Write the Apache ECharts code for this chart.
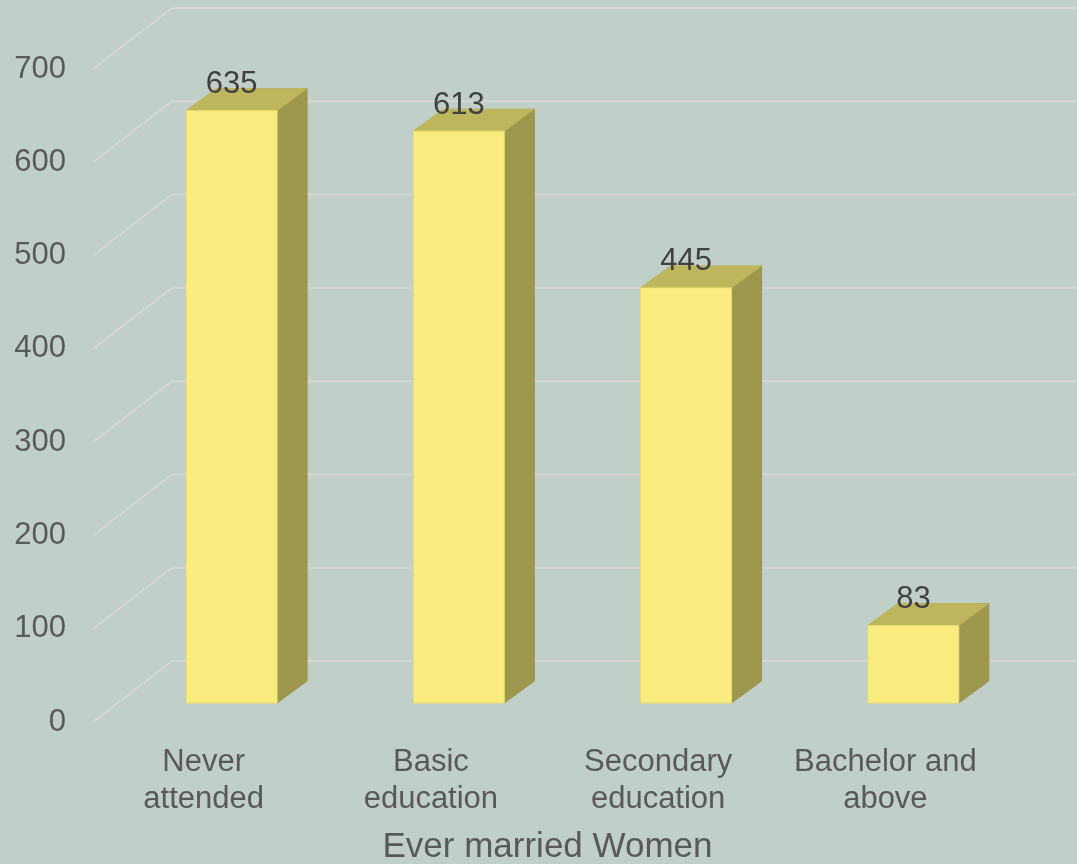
<!DOCTYPE html>
<html>
<head>
<meta charset="utf-8">
<script src="https://cdn.jsdelivr.net/npm/echarts@6/dist/echarts.min.js"></script>
<style>
  html, body { margin: 0; padding: 0; background: #C1CFC9; }
  #chart { width: 1077px; height: 864px; }
</style>
</head>
<body>
<div id="chart"></div>
<script>
// Education level of ever married women
const categories = ['Never\nattended', 'Basic\neducation', 'Secondary\neducation', 'Bachelor and\nabove'];
const women = [635, 613, 445, 83];
const yTicks = [0, 100, 200, 300, 400, 500, 600, 700];

// Pseudo-3D projection: depth vector from the front floor edge to the back wall,
// bar plane position within that depth, and the bar's own depth.
const WALL = [79, -61];
const BAR_PLANE = [25, -19];
const BAR_DEPTH = [30, -22];
const FONT = '"Liberation Sans", Arial, sans-serif';

const chart = echarts.init(document.getElementById('chart'));

chart.setOption({
  backgroundColor: '#C1CFC9',
  animation: false,
  grid: { left: 93, right: 75, top: 69, bottom: 142, outerBoundsMode: 'none', containLabel: false },
  xAxis: {
    type: 'category',
    data: categories,
    axisLine: { show: false },
    axisTick: { show: false },
    axisLabel: {
      interval: 0,
      margin: 22,
      color: '#595959',
      fontSize: 31,
      lineHeight: 37,
      fontFamily: FONT,
      padding: [0, 6, 0, 0]
    },
    name: 'Ever married Women',
    nameLocation: 'middle',
    nameGap: 108,
    nameTextStyle: { color: '#595959', fontSize: 35, fontFamily: FONT }
  },
  yAxis: {
    type: 'value',
    min: 0,
    max: 700,
    interval: 100,
    axisLine: { show: false },
    axisTick: { show: false },
    splitLine: { show: false },
    axisLabel: { margin: 27, color: '#595959', fontSize: 31, fontFamily: FONT, padding: [5, 0, 0, 0] }
  },
  series: [
    {
      // back-wall gridlines with their diagonal side-wall segments
      type: 'custom',
      z: 1,
      silent: true,
      data: yTicks.map(v => [0, v]),
      encode: { x: 0, y: 1 },
      renderItem: function (params, api) {
        const cs = params.coordSys;
        const y = api.coord([0, api.value(1)])[1];
        const x0 = cs.x;
        const bx = x0 + WALL[0];
        const by = y + WALL[1];
        const right = cs.x + cs.width + WALL[0];
        return {
          type: 'polyline',
          shape: { points: [[x0, y], [bx, by], [right, by]] },
          style: { stroke: '#D6D6D6', lineWidth: 2, fill: null }
        };
      }
    },
    {
      type: 'custom',
      z: 2,
      data: women.map((v, i) => [i, v]),
      encode: { x: 0, y: 1 },
      renderItem: function (params, api) {
        const i = api.value(0);
        const v = api.value(1);
        const top = api.coord([i, v]);
        const base = api.coord([i, 0]);
        const bw = api.size([1, 0])[0] * 0.4;
        const cx = top[0] + BAR_PLANE[0];
        const x0 = cx - bw / 2;
        const x1 = cx + bw / 2;
        const yT = top[1] + BAR_PLANE[1];
        const yB = base[1] + BAR_PLANE[1];
        const dx = BAR_DEPTH[0], dy = BAR_DEPTH[1];
        return {
          type: 'group',
          children: [
            {
              type: 'polygon',
              shape: { points: [[x1, yT], [x1 + dx, yT + dy], [x1 + dx, yB + dy], [x1, yB]] },
              style: { fill: '#9E974E', stroke: '#9A934B', lineWidth: 1 }
            },
            {
              type: 'polygon',
              shape: { points: [[x0, yT], [x0 + dx, yT + dy], [x1 + dx, yT + dy], [x1, yT]] },
              style: { fill: '#BDB65C', stroke: '#B8B158', lineWidth: 1 }
            },
            {
              type: 'rect',
              shape: { x: x0, y: yT, width: bw, height: yB - yT },
              style: { fill: '#FAEC7E', stroke: '#EADC70', lineWidth: 1 }
            },
            {
              type: 'text',
              z2: 10,
              style: {
                text: String(v),
                x: cx,
                y: yT - 26,
                align: 'center',
                verticalAlign: 'middle',
                fill: '#404040',
                fontSize: 31,
                fontFamily: FONT
              }
            }
          ]
        };
      }
    }
  ]
});
</script>
</body>
</html>
